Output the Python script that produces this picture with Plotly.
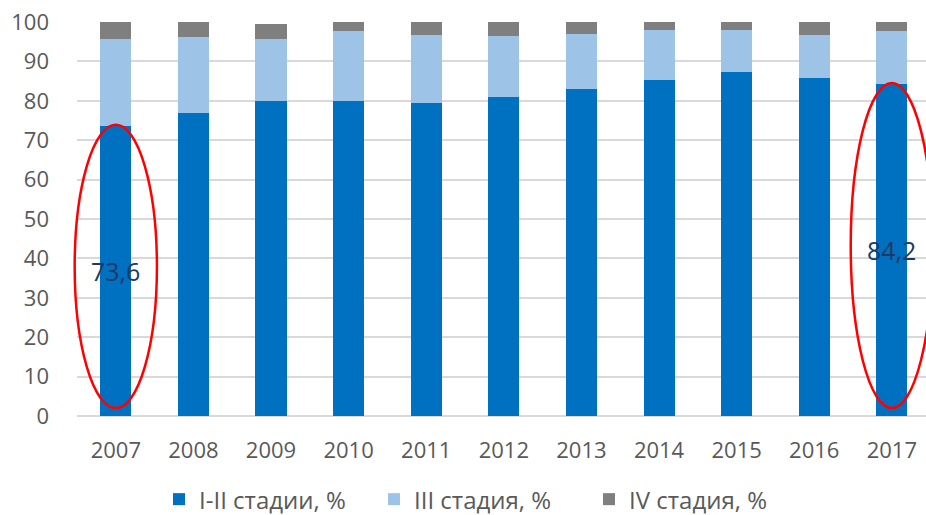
import plotly.graph_objects as go

years = ["2007", "2008", "2009", "2010", "2011", "2012", "2013", "2014", "2015", "2016", "2017"]
stage_1_2 = [73.6, 77.0, 80.0, 80.0, 79.5, 80.9, 83.0, 85.4, 87.3, 85.7, 84.2]
stage_3 = [22.1, 19.1, 15.8, 17.8, 17.1, 15.6, 14.0, 12.5, 10.6, 10.9, 13.4]
stage_4 = [4.3, 3.9, 3.6, 2.2, 3.4, 3.5, 3.0, 2.1, 2.1, 3.4, 2.4]
series_names = ["I-II стадии, %", "III стадия, %", "IV стадия, %"]
series_colors = ["#0070C0", "#9DC3E6", "#7F7F7F"]
highlight_years = ["2007", "2017"]

FONT = "Open Sans"
X_RANGE = [-0.5, 10.44]

fig = go.Figure()
for name, vals, col in zip(series_names, [stage_1_2, stage_3, stage_4], series_colors):
    fig.add_trace(go.Bar(x=years, y=vals, name=name, marker=dict(color=col, line=dict(width=0))))


def to_paper(idx):
    return (idx - X_RANGE[0]) / (X_RANGE[1] - X_RANGE[0])


for hy in highlight_years:
    i = years.index(hy)
    v = stage_1_2[i]
    fig.add_shape(type="circle", xref="paper", yref="y",
                  x0=to_paper(i - 0.53), x1=to_paper(i + 0.53), y0=2, y1=v + 0.3,
                  line=dict(color="#FF0000", width=2.5), layer="above")
    fig.add_annotation(x=i, y=v / 2, xref="x", yref="y",
                       text=f"{v:.1f}".replace(".", ","), showarrow=False,
                       font=dict(family=FONT, size=25, color="#203864"))

fig.update_layout(
    barmode="stack", bargap=0.6,
    width=926, height=515,
    margin=dict(l=77, r=0, t=22, b=99, autoexpand=False),
    plot_bgcolor="white", paper_bgcolor="white",
    font=dict(family=FONT, color="#595959"),
    legend=dict(orientation="h", xref="container", yref="container",
                x=0.52, xanchor="center", y=0.03, yanchor="middle",
                entrywidth=170, entrywidthmode="pixels", tracegroupgap=0,
                font=dict(family=FONT, size=24, color="#595959"), traceorder="normal"),
)
fig.update_xaxes(type="category", range=X_RANGE, showgrid=False, showline=False,
                 ticks="", tickfont=dict(size=22), ticklabelstandoff=19)
fig.update_yaxes(range=[0, 100], dtick=10, showgrid=True, gridcolor="#D9D9D9", gridwidth=1.5,
                 zeroline=True, zerolinecolor="#D9D9D9", zerolinewidth=1.5,
                 ticks="", tickfont=dict(size=22), ticklabelstandoff=27)

fig.write_html("out.html", config={"displayModeBar": False},
               post_script="document.body.style.margin='0';")
